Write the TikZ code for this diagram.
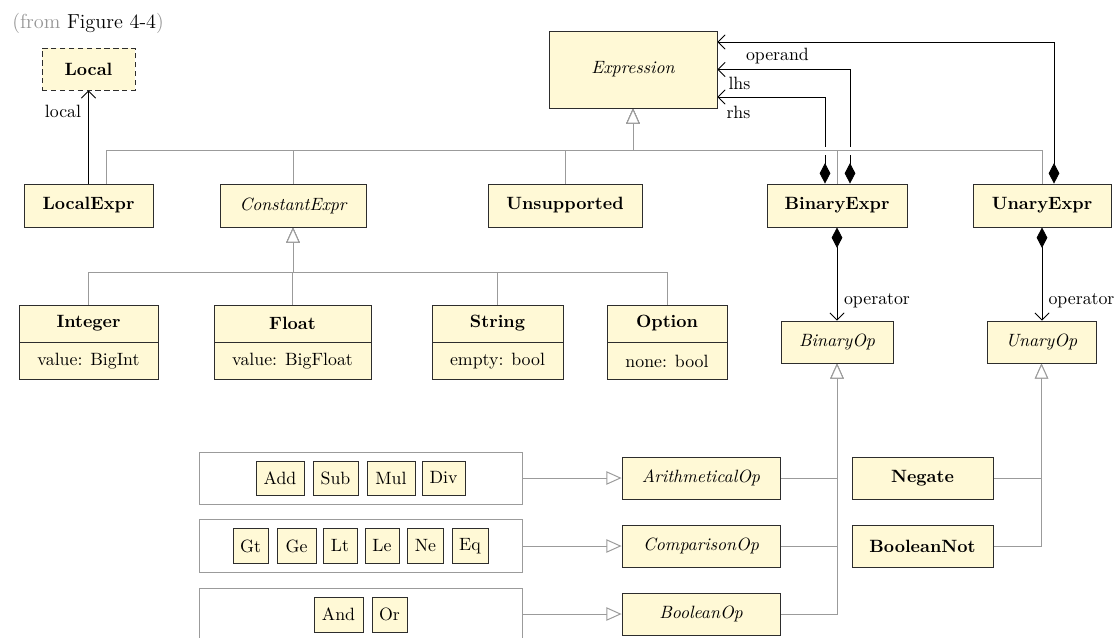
\documentclass[tikz,border=0pt]{standalone}
\usetikzlibrary{arrows.meta,calc}
\definecolor{classfill}{RGB}{255,249,214}
\definecolor{classline}{RGB}{45,45,45}
\definecolor{treeline}{RGB}{155,155,155}
\definecolor{srcgray}{RGB}{150,150,150}
\pgfdeclarelayer{bg}
\pgfsetlayers{bg,main}
\begin{document}
\begin{tikzpicture}[x=0.5618pt, y=-0.5618pt,
  sz/.style 2 args={minimum width=#1*0.5618pt, minimum height=#2*0.5618pt},
  cls/.style={draw=classline, fill=classfill, line width=0.5pt, inner sep=0pt, font=\bfseries},
  abs/.style={cls, font=\itshape},
  attr/.style={cls, font=\normalfont},
  lit/.style={cls, font=\normalfont},
  grp/.style={draw=treeline, fill=white, line width=0.55pt, inner sep=0pt},
  isa/.style={draw=treeline, line width=0.55pt, -{Triangle[length=8.5pt, width=7.5pt, fill=white]}},
  halo/.style={draw=white, line width=4.5pt},
  owns/.style={draw=black, line width=0.45pt, {Diamond[length=11.5pt, width=6pt]}-{Straight Barb[length=4pt, width=8pt]}},
  assoc/.style={draw=black, line width=0.45pt, -{Straight Barb[length=4pt, width=8pt]}},
  lbl/.style={inner sep=0pt, font=\normalfont}
]
\useasboundingbox (0,0) rectangle (1117,637);

% source note
\node[anchor=west, inner sep=0pt, font=\fontsize{11.4}{13}\selectfont] (src) at (12,23)
  {\textcolor{srcgray}{(from} Figure 4-4\textcolor{srcgray}{)}};

% expression hierarchy
\node[cls, sz={93}{42}, dash pattern=on 3pt off 2pt] (local) at (88.5,69) {Local};
\node[abs, sz={168}{77}] (expr) at (633,69.5) {Expression};
\node[cls, sz={129}{43}] (localexpr) at (88.5,205.5) {LocalExpr};
\node[abs, sz={146}{43}] (constexpr) at (293,205.5) {ConstantExpr};
\node[cls, sz={154}{43}] (unsupported) at (565,205.5) {Unsupported};
\node[cls, sz={140}{43}] (binexpr) at (837,205.5) {BinaryExpr};
\node[cls, sz={138}{43}] (unexpr) at (1042,205.5) {UnaryExpr};

% constants, each with one attribute
\node[cls, sz={139}{37}] (int) at (88.5,323.5) {Integer};
\node[attr, sz={139}{37}, anchor=north] (intattr) at (int.south) {value: BigInt};
\node[cls, sz={157}{37}] (float) at (292.5,323.5) {Float};
\node[attr, sz={157}{37}, anchor=north] (floatattr) at (float.south) {value: BigFloat};
\node[cls, sz={131}{37}] (string) at (497.5,323.5) {String};
\node[attr, sz={131}{37}, anchor=north] (stringattr) at (string.south) {empty: bool};
\node[cls, sz={120}{37}] (option) at (667,323.5) {Option};
\node[attr, sz={120}{37}, anchor=north] (optionattr) at (option.south) {none: bool};

% operators
\node[abs, sz={112}{42}] (binop) at (837,342) {BinaryOp};
\node[abs, sz={109}{42}] (unop) at (1041.5,342) {UnaryOp};
\node[abs, sz={158}{42}] (arith) at (701,478) {ArithmeticalOp};
\node[abs, sz={158}{42}] (comp) at (701,546) {ComparisonOp};
\node[abs, sz={158}{42}] (boolop) at (701,614) {BooleanOp};
\node[cls, sz={141}{42}] (negate) at (922.5,478) {Negate};
\node[cls, sz={141}{42}] (boolnot) at (922.5,546) {BooleanNot};

% operator groups
\node[grp, sz={323}{52}] (arithgrp) at (360.5,478) {};
\node[grp, sz={323}{53}] (compgrp) at (360.5,546) {};
\node[grp, sz={323}{52}] (boolgrp) at (360.5,614) {};

\node[lit, sz={48}{34}] (add) at (280,478) {Add};
\node[lit, sz={45}{34}] (sub) at (335.5,478) {Sub};
\node[lit, sz={48}{34}] (mul) at (391,478) {Mul};
\node[lit, sz={43}{34}] (div) at (443.5,478) {Div};

\node[lit, sz={35}{35}] (gt) at (250.5,546) {Gt};
\node[lit, sz={39}{35}] (ge) at (296.5,546) {Ge};
\node[lit, sz={34}{35}] (lt) at (340,546) {Lt};
\node[lit, sz={34}{35}] (le) at (382,546) {Le};
\node[lit, sz={36}{35}] (ne) at (425.5,546) {Ne};
\node[lit, sz={36}{35}] (eq) at (470,546) {Eq};

\node[lit, sz={49}{35}] (and) at (338.5,614.5) {And};
\node[lit, sz={35}{35}] (or) at (389.5,614.5) {Or};

\begin{pgfonlayer}{bg}
  % associations and compositions
  \draw[assoc] (localexpr) -- (local)
    node[lbl, pos=1, shift={(-25.5,21)}] {local};
  \draw[owns] ($(binexpr.north)+(-12,0)$) |- ($(expr.east)+(0,27.5)$)
    node[lbl, pos=1, shift={(21,15)}] {rhs};
  \draw[owns] ($(binexpr.north)+(13,0)$) |- (expr.east)
    node[lbl, pos=1, shift={(22,14)}] {lhs};
  \draw[owns] ($(unexpr.north)+(12,0)$) |- ($(expr.east)+(0,-27.5)$)
    node[lbl, pos=1, shift={(60,14)}] {operand};
  \draw[owns] (binexpr) -- (binop)
    node[lbl, pos=1, shift={(40,-20)}] {operator};
  \draw[owns] (unexpr.south) -- (unexpr.south |- unop.north)
    node[lbl, pos=1, shift={(39.5,-20)}] {operator};

  % generalisations of Expression (white halo first, then the lines)
  \foreach \child/\dx in {localexpr/18, constexpr/0, unsupported/0, binexpr/0, unexpr/0}
    \draw[halo] ($(\child.north)+(\dx,0)$) -- ++(0,-33) -| (expr.south);
  \foreach \child/\dx in {localexpr/18, constexpr/0, unsupported/0, binexpr/0, unexpr/0}
    \draw[isa] ($(\child.north)+(\dx,0)$) -- ++(0,-33) -| (expr.south);

  % generalisations of ConstantExpr
  \foreach \child in {int, float, string, option}
    \draw[isa] (\child.north) -- ++(0,-32) -| (constexpr.south);

  % generalisations of the operators
  \foreach \child in {arith, comp, boolop}
    \draw[isa] (\child.east) -| (binop.south);
  \foreach \child in {negate, boolnot}
    \draw[isa] (\child.east) -| (unop.south);

  \draw[isa] (arithgrp) -- (arith);
  \draw[isa] (compgrp) -- (comp);
  \draw[isa] (boolgrp) -- (boolop);
\end{pgfonlayer}
\end{tikzpicture}
\end{document}
